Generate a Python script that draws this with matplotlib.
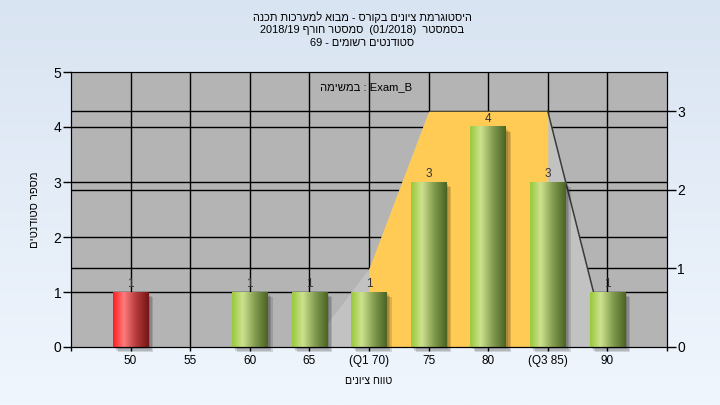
import re
import numpy as np
import matplotlib
matplotlib.use('Agg')
import matplotlib.pyplot as plt
import matplotlib.transforms as mtransforms
from matplotlib.colors import LinearSegmentedColormap
from matplotlib.patches import Rectangle

plt.rcParams['font.family'] = ['Liberation Sans', 'DejaVu Sans']

#---------------chart data
grade_labels = ['50', '55', '60', '65', '(Q1 70)', '75', '80', '(Q3 85)', '90']
student_counts = [1, 0, 1, 1, 1, 3, 4, 3, 1]
failed = [True, False, False, False, False, False, False, False, False]
curve_values = [0, 0, 0, 0, 1, 3, 3, 3, 0]   # right axis polygon
q1_idx = 4
q3_idx = 7

title_lines = ['היסטוגרמת ציונים בקורס - מבוא למערכות תכנה',
               'בסמסטר  (01/2018)  סמסטר חורף 2018/19',
               'סטודנטים רשומים - 69']
task_label = 'Exam_B : במשימה'
x_title = 'טווח ציונים'
y_title = 'מספר סטודנטים'

left_max = 5
right_max = 3.5


#---------------matplotlib has no bidi, so flip hebrew to visual order
def rtl(s):
    r = s[::-1]
    r = re.sub(r'[A-Za-z0-9_/.]+', lambda m: m.group(0)[::-1], r)
    return r.translate(str.maketrans('()', ')('))


fig = plt.figure(figsize=(7.2, 4.05), dpi=100)

# background gradient
bg = fig.add_axes([0, 0, 1, 1], zorder=-10)
bg_cmap = LinearSegmentedColormap.from_list('bg', ['#d9e4f2', '#f0f6fd'])
bg.imshow(np.linspace(0, 1, 256).reshape(-1, 1), cmap=bg_cmap, aspect='auto',
          extent=[0, 1, 0, 1], origin='upper')
bg.axis('off')

ax = fig.add_axes([71 / 720, 1 - 347 / 405, 596 / 720, 275 / 405])
ax.set_facecolor('#b4b4b4')

x = np.arange(len(grade_labels))
k = left_max / right_max

# grid lines (left and right axis)
for v in range(1, left_max):
    ax.axhline(v, color='black', lw=1, zorder=1)
for v in range(1, int(right_max) + 1):
    ax.axhline(v * k, color='black', lw=1, zorder=1)
for xi in x:
    ax.axvline(xi, color='black', lw=1, zorder=1)

# distribution polygon + quartile range
curve = np.array(curve_values) * k
ax.fill_between(x, 0, curve, color='#c2c2c2', lw=0, zorder=2)
ax.fill_between(x[q1_idx:q3_idx + 1], 0, curve[q1_idx:q3_idx + 1],
                color='#ffcb55', lw=0, zorder=2.2)
ax.plot(x[q3_idx:q3_idx + 2], curve[q3_idx:q3_idx + 2], color='#3a3a3a',
        lw=1.1, zorder=2.5)

green_cmap = LinearSegmentedColormap.from_list(
    'g', [(0, '#98c83a'), (0.3, '#cde28f'), (0.65, '#809a4e'), (1, '#4a6322')])
red_cmap = LinearSegmentedColormap.from_list(
    'r', [(0, '#ff1c1c'), (0.3, '#ff7b7b'), (0.65, '#b43a3a'), (1, '#741414')])
hgrad = np.linspace(0, 1, 256).reshape(1, -1)

w = 0.6
for xi, c, f in zip(x, student_counts, failed):
    if c == 0:
        continue
    # soft drop shadow
    for off in [2, 3.5, 5]:
        tr = mtransforms.offset_copy(ax.transData, fig=fig, x=off, y=-off, units='dots')
        ax.add_patch(Rectangle((xi - w / 2, 0), w, c, transform=tr, facecolor='black',
                               alpha=0.13, lw=0, zorder=3, clip_on=False))
    ax.imshow(hgrad, cmap=red_cmap if f else green_cmap, aspect='auto',
              extent=[xi - w / 2, xi + w / 2, 0, c], interpolation='bicubic', zorder=4)
    ax.annotate(str(c), (xi, c), xytext=(0, 1.5), textcoords='offset points',
                ha='center', va='bottom', fontsize=8.5, color='#333333', zorder=6)

ax.set_xlim(-1, len(grade_labels))
ax.set_ylim(0, left_max)
ax.set_aspect('auto')
ax.set_xticks(np.arange(-1, len(grade_labels) + 1))
ax.set_xticklabels([''] + grade_labels + [''])
ax.set_yticks(range(0, left_max + 1))
ax.tick_params(axis='x', length=3, width=1, pad=3, labelsize=8.5)
ax.tick_params(axis='y', length=6, width=1, pad=1, labelsize=10)
for s in ax.spines.values():
    s.set_color('black')
    s.set_zorder(7)

ax2 = ax.twinx()
ax2.set_ylim(0, right_max)
ax2.set_yticks(range(0, int(right_max) + 1))
ax2.tick_params(axis='y', length=6.5, width=1, pad=1, labelsize=10)
for s in ax2.spines.values():
    s.set_color('black')

# texts
for i, line in enumerate(title_lines):
    fig.text(0.503, 1 - (17 + 13 * i) / 405, rtl(line), ha='center', va='center',
             fontsize=7.9)
fig.text(366 / 720, 1 - 87 / 405, rtl(task_label), ha='center', va='center', fontsize=8.1)
fig.text(369 / 720, 1 - 381 / 405, rtl(x_title), ha='center', va='center', fontsize=7.6)
fig.text(35 / 720, 1 - 210 / 405, rtl(y_title), ha='center', va='center',
         rotation=90, fontsize=8)

fig.savefig('out.png', dpi=100)
